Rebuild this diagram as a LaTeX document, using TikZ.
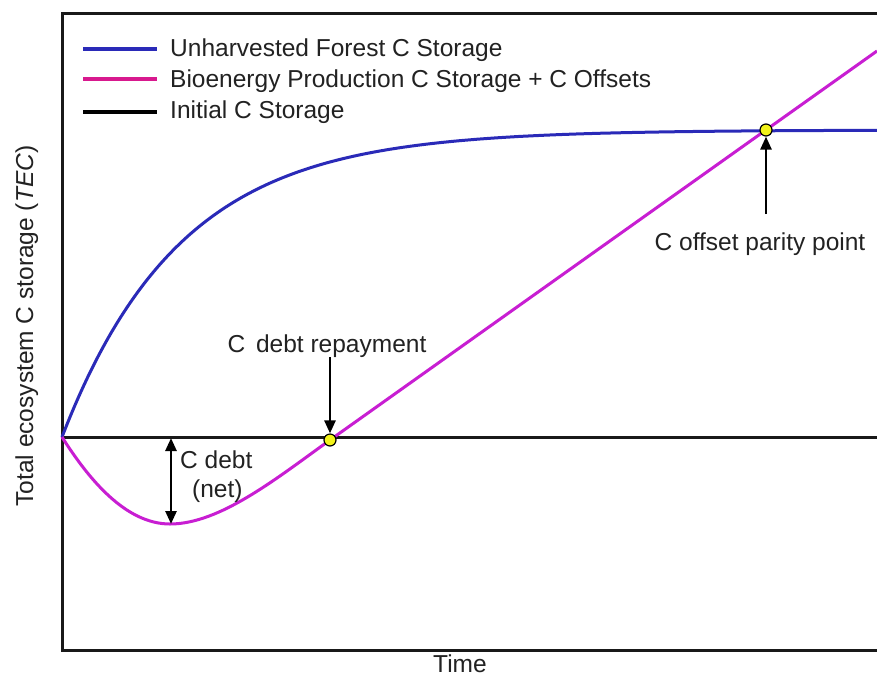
\documentclass[tikz,border=0pt]{standalone}
\usepackage{fontspec}
\setmainfont{Liberation Sans}
\usetikzlibrary{arrows.meta}
\definecolor{txt}{HTML}{222222}
\definecolor{forestblue}{HTML}{2A2AB8}
\definecolor{bioviolet}{HTML}{C81ED2}
\definecolor{biopink}{HTML}{D8198E}
\definecolor{dotyellow}{HTML}{F2F21A}
\tikzset{
  axisline/.style={line width=3pt, black!90},
  curve/.style={line width=3pt, line join=round},
  legline/.style={line width=4pt},
  lbl/.style={text=txt, font=\fontsize{24.5}{29}\selectfont, inner sep=0pt},
  pointer/.style={line width=2.6pt, black, -{Triangle[length=13pt,width=11pt]}},
  twoway/.style={line width=2.6pt, black, {Triangle[length=13pt,width=11pt]}-{Triangle[length=13pt,width=11pt]}},
  dot/.style={circle, draw=black, line width=1.2pt, fill=dotyellow, minimum size=12pt, inner sep=0pt}
}
\begin{document}
\begin{tikzpicture}[x=1pt,y=-1pt]
\useasboundingbox (0,0) rectangle (877,678);
\fill[white] (0,0) rectangle (877,678);
% frame
\coordinate (TL) at (62,13);
\coordinate (TR) at (877,13);
\coordinate (BL) at (62,650);
\coordinate (BR) at (877,650);
\draw[axisline] (TR) -- (TL) -- (BL) -- (BR);
% initial storage
\coordinate (O) at (62,437);
\coordinate (Oend) at (877,437);
\draw[axisline] (O) -- (Oend);
% unharvested forest curve
\draw[curve, forestblue] plot[domain=62:877, samples=160, smooth] (\x, {130+307*exp(-0.00844*(\x-62))});
% bioenergy curve
\coordinate (repay) at (330,440);
\coordinate (parity) at (766,130);
\coordinate (bend) at (877,51);
\coordinate (dip) at (170,524);
\draw[curve, bioviolet] (O) .. controls (88,478) and (125,524) .. (dip)
  .. controls (220,524) and (277,478) .. (repay) -- (bend);
% markers
\node[dot] (repaydot) at (repay) {};
\node[dot] (paritydot) at (parity) {};
% legend
\coordinate (l1a) at (83,49); \coordinate (l1b) at (157,49);
\coordinate (l2a) at (83,79); \coordinate (l2b) at (157,79);
\coordinate (l3a) at (83,112); \coordinate (l3b) at (157,112);
\draw[legline, forestblue] (l1a) -- (l1b);
\draw[legline, biopink] (l2a) -- (l2b);
\draw[legline, black] (l3a) -- (l3b);
\node[lbl, anchor=base west] (t1) at (170,56) {Unharvested Forest C Storage};
\node[lbl, anchor=base west] (t2) at (170,87) {Bioenergy Production C Storage + C Offsets};
\node[lbl, anchor=base west] (t3) at (170,118) {Initial C Storage};
% C debt repayment
\node[lbl, anchor=base] (repaylbl) at (327,352) {C\hspace{4pt} debt repayment};
\coordinate (repaytop) at (330,357);
\draw[pointer] (repaytop) -- (repaydot.north);
% parity
\node[lbl, anchor=base] (paritylbl) at (760,250) {C offset parity point};
\coordinate (paritybot) at (766,214);
\draw[pointer] (paritybot) -- (paritydot.south);
% C debt
\coordinate (debttop) at (171,438);
\coordinate (debtbot) at (171,524);
\draw[twoway] (debttop) -- (debtbot);
\node[lbl, anchor=base west] (debtlbl) at (180,468) {C debt};
\node[lbl, anchor=base west] (netlbl) at (192,497) {(net)};
% axis labels
\node[lbl, anchor=base] (xlbl) at (460,672) {Time};
\node[lbl, anchor=base, rotate=90] (ylbl) at (33,326) {Total ecosystem C storage (\textit{TEC})};
\end{tikzpicture}
\end{document}
